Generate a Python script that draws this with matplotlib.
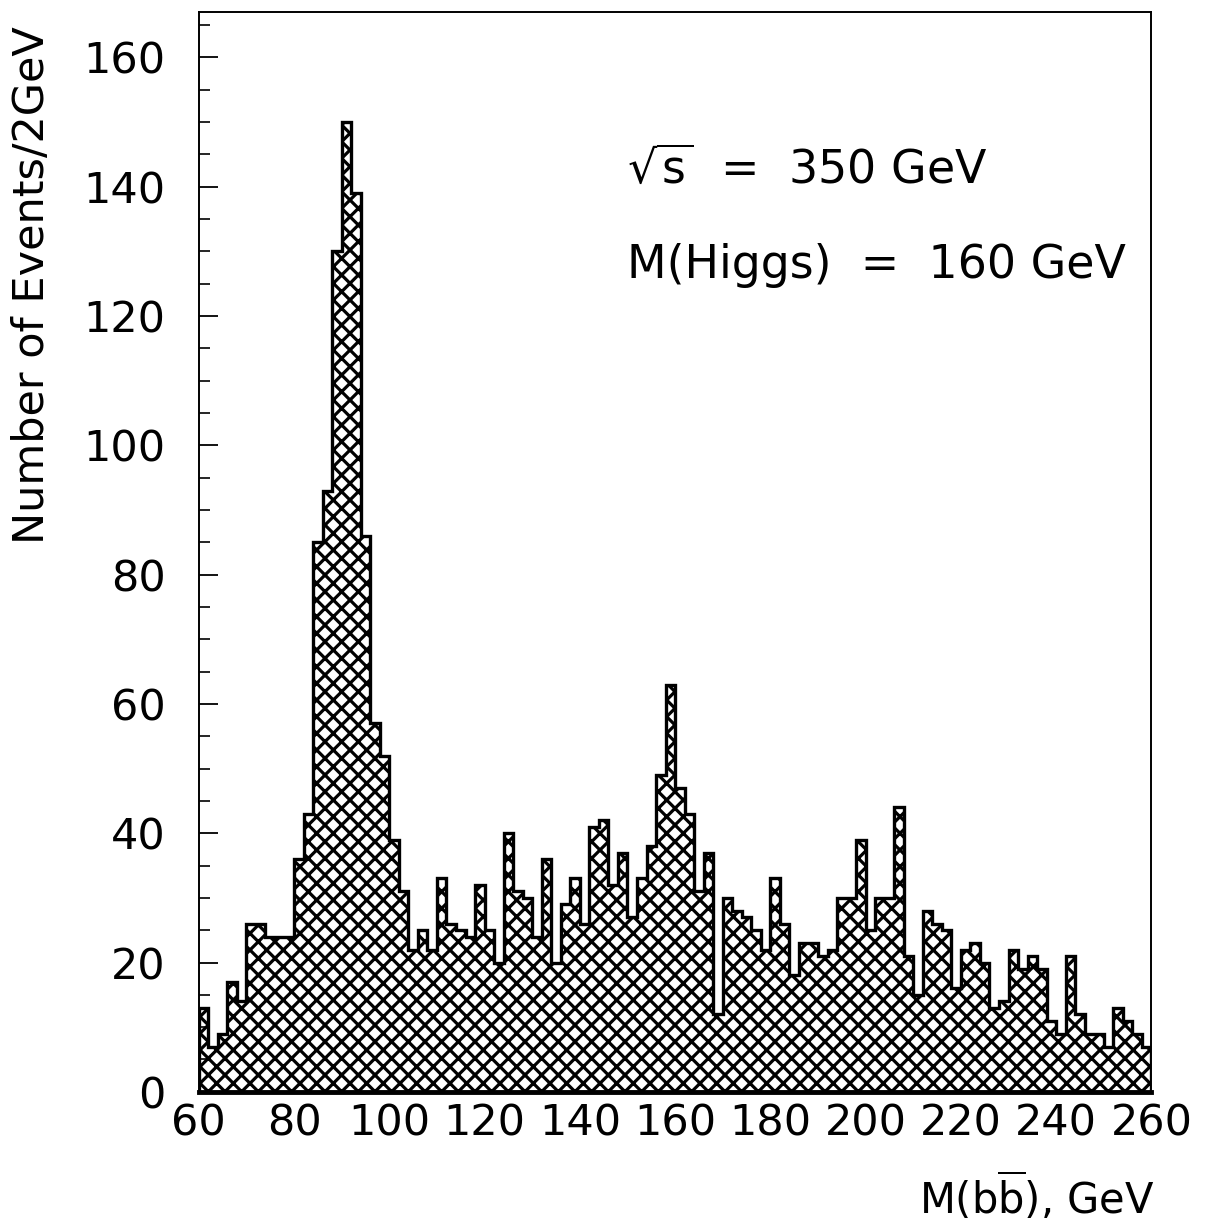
import numpy as np
import matplotlib
matplotlib.use('Agg')
import matplotlib.pyplot as plt
from matplotlib.ticker import MultipleLocator

# bin edges: 2 GeV bins from 60 to 260
edges = np.arange(60, 262, 2)

# events per 2 GeV bin
counts = [13, 7, 9, 17, 14, 26, 26, 24, 24, 24,
          36, 43, 85, 93, 130, 150, 139, 86, 57, 52,
          39, 31, 22, 25, 22, 33, 26, 25, 24, 32,
          25, 20, 40, 31, 30, 24, 36, 20, 29, 33,
          26, 41, 42, 32, 37, 27, 33, 38, 49, 63,
          47, 43, 31, 37, 12, 30, 28, 27, 25, 22,
          33, 26, 18, 23, 23, 21, 22, 30, 30, 39,
          25, 30, 30, 44, 21, 15, 28, 26, 25, 16,
          22, 23, 20, 13, 14, 22, 19, 21, 19, 11,
          9, 21, 12, 9, 9, 7, 13, 11, 9, 7]

xticks = np.arange(60, 261, 20)
yticks = np.arange(0, 161, 20)

plt.rcParams.update({
    'font.family': ['DejaVu Sans'],
    'mathtext.fontset': 'dejavusans',
    'hatch.linewidth': 2.3,
})

fig = plt.figure(figsize=(12.12, 12.24), dpi=100)
ax = fig.add_axes([0.164, 0.108, 0.786, 0.882])

# hatched fill, then the step outline on top
ax.stairs(counts, edges, fill=True, facecolor='white', edgecolor='black',
          hatch='xx', linewidth=0)
ax.stairs(counts, edges, color='black', linewidth=2.4, baseline=0)

ax.set_xlim(60, 260)
ax.set_ylim(0, 167)
ax.set_xticks(xticks)
ax.set_yticks(yticks)
ax.yaxis.set_minor_locator(MultipleLocator(5))

ax.tick_params(axis='y', which='major', direction='in', length=14, width=1.3,
               labelsize=31, pad=24)
ax.tick_params(axis='y', which='minor', direction='in', length=8, width=1.2)
ax.tick_params(axis='x', which='major', direction='in', length=0,
               labelsize=31, pad=8)
ax.tick_params(top=False, right=False)

for side in ['left', 'top', 'right']:
    ax.spines[side].set_linewidth(1.4)
ax.spines['bottom'].set_linewidth(3.5)

ax.set_ylabel('Number of Events/2GeV', fontsize=31)
ax.yaxis.set_label_coords(-0.153, 0.747)

fig.text(0.953, 0.022, r'M(b$\overline{\mathrm{b}}$), GeV', fontsize=30,
         ha='right', va='center')

ax.text(150, 142.5, r'$\sqrt{\mathrm{s}}$  =  350 GeV', fontsize=33, va='center')
ax.text(150, 127.8, 'M(Higgs)  =  160 GeV', fontsize=33, va='center')

plt.savefig('out.png', dpi=100, facecolor='white')
